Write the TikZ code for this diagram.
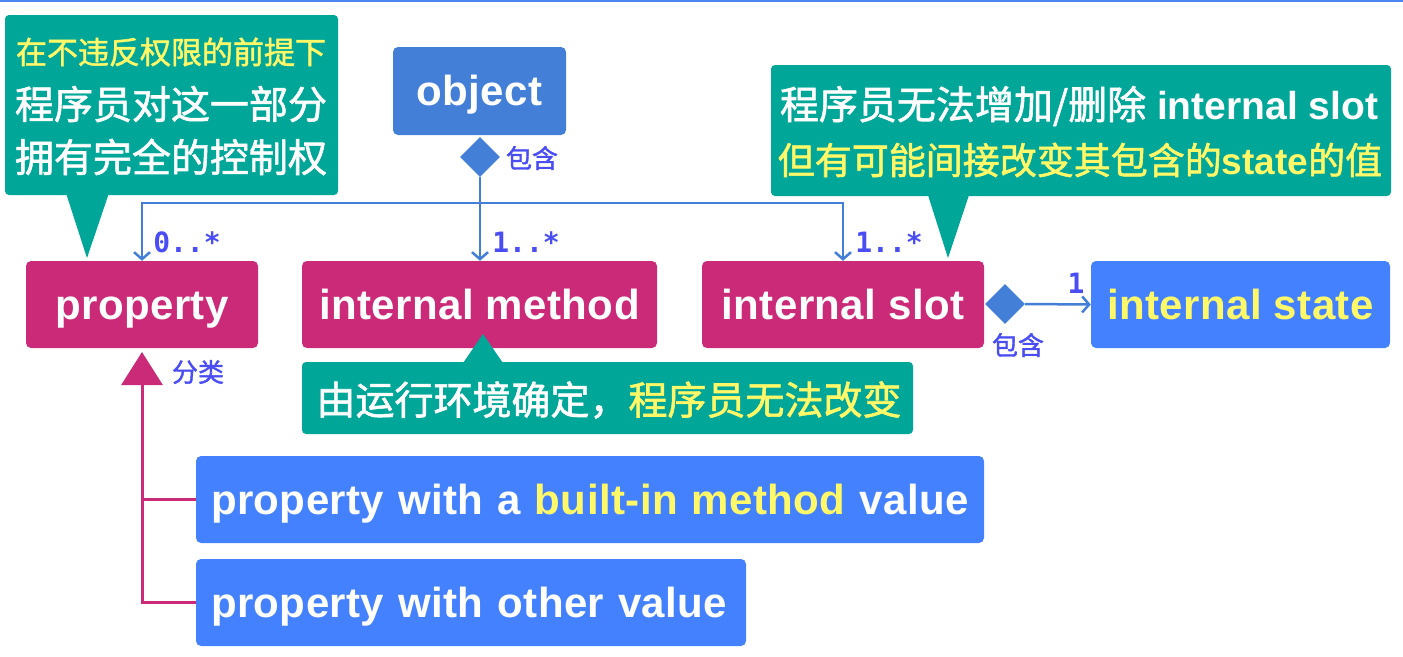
\documentclass[tikz,border=0pt]{standalone}
\usepackage{fontspec}
\setmainfont{Liberation Sans}
\newfontfamily\cjk{Noto Sans CJK SC}[FakeBold=1.5]
\newfontfamily\monof{DejaVu Sans Mono}
\usetikzlibrary{arrows.meta,shapes.geometric}
\newcommand\myfs[1]{\fontsize{#1}{#1}\selectfont}
\definecolor{mag}{RGB}{203,42,120}
\definecolor{oblue}{RGB}{67,127,215}
\definecolor{bblue}{RGB}{68,129,255}
\definecolor{teal0}{RGB}{0,167,153}
\definecolor{yel}{RGB}{255,248,104}
\definecolor{lblue}{RGB}{74,77,242}
\definecolor{topblue}{RGB}{74,134,240}
\tikzset{
  box/.style={rounded corners=5pt, inner sep=0pt, text=white, text height=29pt, text depth=0pt,
    font=\bfseries\addfontfeature{LetterSpace=1}\myfs{42}},
  mbox/.style={box, fill=mag},
  bbox/.style={box, fill=bblue},
  obox/.style={box, fill=oblue},
  callout/.style={fill=teal0, rounded corners=4pt, inner sep=0pt},
  lab/.style={text=lblue, font=\cjk\myfs{26}},
  mult/.style={text=lblue, font=\monof\bfseries\myfs{28}},
  conn/.style={draw=oblue, line width=2.5pt},
  arr/.style={conn, -{Straight Barb[length=7pt,width=16pt]}},
  diam/.style={diamond, fill=oblue, inner sep=0pt, minimum width=40pt, minimum height=40pt},
  mline/.style={draw=mag, line width=3pt},
}
\begin{document}
\begin{tikzpicture}[x=1pt,y=-1pt]
\useasboundingbox (0,0) rectangle (1403,656);
\fill[topblue] (0,0) rectangle (1403,2);

% main nodes
\node[obox, minimum width=173pt, minimum height=88pt] (obj) at (479.5,91) {object};
\node[mbox, minimum width=232pt, minimum height=87pt] (prop) at (142,304.5) {property};
\node[mbox, minimum width=355pt, minimum height=87pt] (im) at (479.5,304.5) {internal method};
\node[mbox, minimum width=282pt, minimum height=87pt] (slot) at (843,304.5) {internal slot};
\node[bbox, minimum width=299pt, minimum height=87pt, text=yel] (state) at (1240.5,304.5) {internal state};
\node[bbox, text width=758pt, inner xsep=15pt, minimum height=87pt, align=left] (b1) at (590,499.5) {property with a {\color{yel}built-in method} value};
\node[bbox, text width=520pt, inner xsep=15pt, minimum height=87pt, align=left] (b2) at (471,602.5) {property with other value};

% diamonds
\node[diam] (dobj) at (480,157) {};
\node[diam] (dslot) at (1005,304) {};

% labels
\node[lab] (l1) at (532,158) {包含};
\node[lab] (l2) at (1018,345) {包含};
\node[lab] (l3) at (198,372) {分类};
\node[mult] (m0) at (187,242) {0..*};
\node[mult] (m1) at (526,242) {1..*};
\node[mult] (m2) at (889,242) {1..*};
\node[mult] (m3) at (1076,283) {1};

% connectors
\coordinate (bus) at (480,203);
\draw[arr] (dobj.south) -- (dobj.south |- im.north);
\draw[arr] (bus) -| (prop.north);
\draw[arr] (bus) -| (slot.north);
\draw[arr] (dslot.east) -- (state.west);

\coordinate (ptip) at (142,352);
\draw[mline, -{Triangle[length=33pt,width=41pt]}] (b2.west) -| (ptip);
\draw[mline] (b1.west) -- (b1.west -| ptip);

% callout 1
\node[callout, minimum width=333pt, minimum height=180pt] (c1) at (171.5,105) {};
\fill[teal0] (65,190) -- (110,190) -- (87,258) -- cycle;
\node[text=yel, font=\cjk\myfs{31}] (c1a) at (171,52) {在不违反权限的前提下};
\node[text=white, font=\cjk\myfs{39}] (c1b) at (171,104) {程序员对这一部分};
\node[text=white, font=\cjk\myfs{39}] (c1c) at (171,157) {拥有完全的控制权};

% callout 2
\node[callout, minimum width=620pt, minimum height=131pt] (c2) at (1081,130.5) {};
\fill[teal0] (927,192) -- (970,192) -- (948,258) -- cycle;
\node[text=white, font=\myfs{39}] (c2a) at (1079,106) {{\cjk 程序员无法增加/删除} {\bfseries internal slot}};
\node[text=yel, font=\myfs{37}] (c2b) at (1080,160) {{\cjk 但有可能间接改变其包含的}{\bfseries state}{\cjk 的值}};

% callout 3
\node[callout, minimum width=611pt, minimum height=72pt] (c3) at (607.5,398) {};
\fill[teal0] (461,366) -- (505,366) -- (483,334) -- cycle;
\node[text=white, font=\cjk\myfs{39}] (c3a) at (609,400) {由运行环境确定，{\color{yel}程序员无法改变}};
\end{tikzpicture}
\end{document}
